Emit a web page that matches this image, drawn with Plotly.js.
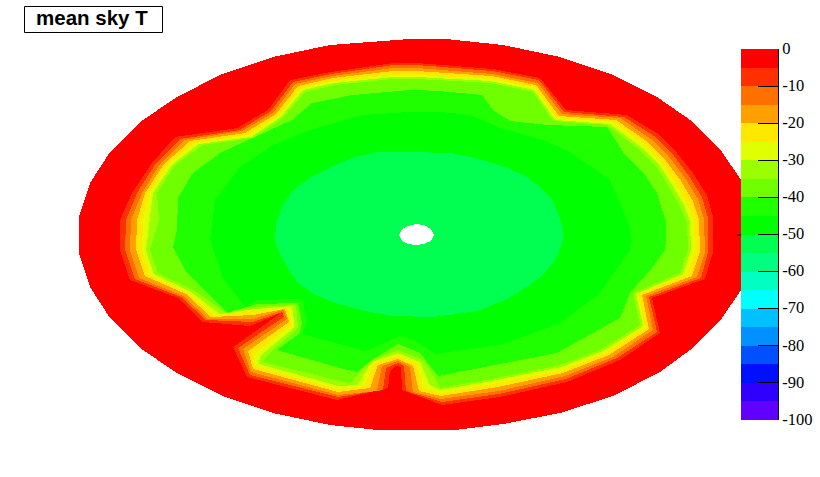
<!DOCTYPE html>
<html>
<head>
<meta charset="utf-8">
<script src="https://cdn.plot.ly/plotly-3.0.1.min.js"></script>
<style>
body { margin: 0; background: #fff; }
/* the original has hard pixel edges, no smoothing */
.js-fill, .bars path { shape-rendering: crispEdges; }
</style>
</head>
<body>
<div id="chart" style="width:820px;height:477px"></div>
<script>
// palette, top (0) to bottom (-100), 5 degrees per band
const bandColors = ["#ff0000","#ff3000","#ff7000","#ffa000","#ffe800","#e0ff00","#9cff00","#70ff00","#20ff00","#00ff00",
    "#00ff50","#00ff80","#00ffc0","#00ffff","#00c0ff","#0090ff","#0050ff","#0010ff","#3000ff","#6000ff"];
const bandLow = [-5,-10,-15,-20,-25,-30,-35,-40,-45,-50,-55,-60,-65,-70,-75,-80,-85,-90,-95,-100];
const tickValues = [0,-10,-20,-30,-40,-50,-60,-70,-80,-90,-100];
const tickLabels = ["0","-10","-20","-30","-40","-50","-60","-70","-80","-90","-100"];

// contour edges, clockwise from the top
const edgeOuter = [[410,39],[446,39],[503,45],[560,57],[613,75],[657,97],[693,122],[722,152],[741,180],[755,217],[755,253],[741,290],[722,318],[690,350],[660,372],[613,396],[560,413],[503,424],[455,430],[378,430],[330,425],[273,413],[223,396],[177,373],[140,348],[110,318],[90,287],[79,253],[79,217],[90,183],[110,152],[140,122],[177,97],[220,75],[273,57],[330,45]];
const edge5 = [[417,63],[493,69],[540,78],[566,110],[627,115],[657,133],[677,153],[693,173],[707,195],[713,217],[713,252],[705,279],[652,298],[660,333],[620,360],[567,382],[500,397],[442,405],[402,390],[401,367],[396,366],[390,371],[388,388],[337,400],[247,377],[233,347],[281,313],[250,326],[203,322],[178,298],[130,280],[120,250],[120,220],[132,193],[152,163],[175,137],[237,128],[268,110],[290,80],[330,72],[393,63]];
const edge10 = [[417,65],[492,71],[539,80],[564,112],[624,117],[654,136],[674,156],[689,176],[702,197],[708,218],[708,252],[701,278],[649,297],[657,332],[617,358],[566,379],[499,394],[442,402],[406,391],[404,366],[398,363],[386,368],[383,390],[338,397],[250,375],[238,348],[284,317],[282,312],[253,322],[206,320],[181,297],[135,279],[125,250],[126,220],[137,193],[156,163],[180,139],[240,130],[271,111],[293,82],[331,74],[393,65]];
const edge15 = [[417,68],[492,74],[538,83],[562,114],[620,118],[651,139],[670,158],[685,178],[698,199],[704,219],[705,252],[697,277],[646,296],[653,330],[613,357],[565,376],[499,391],[441,399],[413,392],[410,367],[398,361],[382,366],[377,391],[338,395],[251,372],[243,349],[287,319],[283,310],[253,319],[208,319],[183,296],[139,278],[130,250],[131,220],[142,193],[160,164],[184,140],[242,131],[273,113],[295,84],[332,76],[393,68]];
const edge20 = [[417,71],[491,76],[536,85],[559,116],[616,120],[648,142],[666,161],[681,181],[693,201],[699,220],[700,251],[692,276],[642,295],[649,329],[609,355],[563,373],[498,387],[441,396],[419,391],[413,366],[398,359],[378,365],[370,388],[338,392],[253,369],[248,351],[289,322],[285,309],[253,315],[211,317],[186,294],[145,276],[136,250],[137,220],[145,193],[164,164],[190,141],[245,133],[276,114],[298,86],[333,78],[393,71]];
const edge25 = [[417,75],[491,79],[535,88],[556,118],[612,122],[645,145],[662,164],[676,184],[687,204],[694,221],[695,251],[687,275],[638,294],[645,327],[605,353],[562,370],[498,383],[441,393],[424,388],[417,364],[398,356],[374,363],[364,386],[338,389],[255,366],[254,355],[292,325],[288,308],[254,311],[215,316],[188,293],[150,275],[142,250],[143,220],[150,193],[169,164],[195,143],[249,135],[279,116],[301,89],[334,81],[393,75]];
const edge30 = [[417,77],[490,81],[534,90],[555,120],[610,124],[642,148],[660,166],[673,186],[684,205],[690,221],[691,250],[683,274],[636,294],[643,326],[603,351],[561,367],[497,380],[440,390],[430,385],[420,362],[398,353],[371,362],[358,385],[338,386],[259,364],[260,356],[295,327],[292,306],[255,309],[220,314],[191,292],[154,274],[146,250],[150,220],[153,193],[172,165],[199,144],[251,137],[281,117],[303,90],[334,83],[393,77]];
const edge35 = [[417,79],[490,83],[533,92],[553,121],[607,125],[640,150],[657,168],[670,188],[680,207],[687,222],[688,250],[680,273],[633,293],[640,325],[600,350],[560,365],[497,378],[440,388],[436,380],[423,360],[398,350],[368,362],[350,384],[340,381],[263,362],[268,355],[298,328],[296,305],[257,307],[225,312],[193,290],[158,273],[150,250],[159,220],[157,193],[175,165],[203,145],[253,138],[283,118],[305,92],[335,85],[393,79]];
const edge40 = [[417,90],[438,91],[482,95],[493,110],[510,121],[548,125],[607,127],[623,152],[645,175],[657,193],[666,222],[666,240],[665,250],[652,268],[630,293],[620,318],[557,353],[483,367],[438,376],[420,353],[398,344],[375,358],[357,372],[340,368],[277,350],[300,333],[302,323],[298,303],[257,304],[227,313],[185,270],[173,247],[177,230],[178,198],[193,173],[220,153],[292,120],[312,103],[353,95],[410,90]];
const edge45 = [[417,112],[440,112],[470,115],[500,128],[543,140],[570,152],[610,180],[630,227],[631,240],[630,250],[600,293],[560,323],[500,345],[435,354],[415,341],[400,336],[380,345],[365,351],[303,334],[307,320],[302,299],[257,300],[245,307],[223,278],[210,240],[215,200],[240,167],[273,145],[310,130],[363,115],[410,112]];
const edge50 = [[410,152],[450,153],[470,157],[490,162],[510,169],[527,177],[541,188],[552,200],[559,215],[563,230],[563,240],[559,252],[553,263],[543,275],[527,287],[505,300],[478,311],[433,317],[393,316],[365,311],[335,303],[314,294],[298,283],[287,267],[279,252],[275,240],[276,225],[281,208],[293,190],[311,177],[333,166],[355,157],[378,152]];
const holeEdge = [[399,235],[402,229],[408,226],[416,224],[424,225],[431,229],[434,235],[431,241],[424,244],[416,245],[408,244],[402,241]];

const edges = [edgeOuter, edge5, edge10, edge15, edge20, edge25, edge30, edge35, edge40, edge45, edge50];

function polygon(points, color) {
    return {
        x: points.map(p => p[0]),
        y: points.map(p => p[1]),
        type: "scatter",
        mode: "lines",
        fill: "toself",
        fillcolor: color,
        line: {width: 0, color: color},
        hoverinfo: "skip",
        showlegend: false
    };
}

const traces = edges.map((points, i) => polygon(points, bandColors[i]));
traces.push(polygon(holeEdge, "#ffffff"));

// palette on the right
traces.push({
    x: bandLow.map(() => 0),
    y: bandLow.map(() => 5),
    base: bandLow,
    type: "bar",
    width: 1,
    marker: {color: bandColors, line: {width: 0}},
    xaxis: "x2",
    yaxis: "y2",
    hoverinfo: "skip",
    showlegend: false
});

const layout = {
    width: 820,
    height: 477,
    margin: {l: 0, r: 0, t: 0, b: 0},
    paper_bgcolor: "#ffffff",
    plot_bgcolor: "rgba(0,0,0,0)",
    hovermode: false,
    showlegend: false,
    font: {family: "Liberation Serif", color: "#000000", size: 16},
    xaxis: {domain: [0, 741/820], range: [0, 741], visible: false, fixedrange: true},
    yaxis: {domain: [0, 1], range: [477, 0], visible: false, fixedrange: true},
    xaxis2: {domain: [741/820, 778/820], range: [-0.5, 0.5], visible: false, anchor: "y2", fixedrange: true},
    yaxis2: {
        domain: [(477-420)/477, (477-49)/477],
        range: [-100, 0],
        anchor: "x2",
        side: "right",
        showline: true,
        linecolor: "#000000",
        linewidth: 1,
        showgrid: false,
        zeroline: false,
        ticks: "inside",
        ticklen: 20,
        tickwidth: 1,
        tickcolor: "#000000",
        tickmode: "array",
        tickvals: tickValues,
        ticktext: tickLabels,
        ticklabelshift: -1,
        tickfont: {family: "Liberation Serif", size: 16.5, color: "#000000"},
        fixedrange: true
    },
    shapes: [
        {type: "line", xref: "paper", yref: "paper", x0: 737/820, x1: 741/820, y0: (477-235)/477, y1: (477-235)/477, line: {color: "#000000", width: 1}},
        // title box
        {type: "rect", xref: "x", yref: "y", x0: 24.5, x1: 162.5, y0: 6.5, y1: 32.5, fillcolor: "#ffffff", line: {color: "#000000", width: 1}}
    ],
    annotations: [{
        text: "<b>mean sky T</b>",
        xref: "x",
        yref: "y",
        x: 92,
        y: 17,
        xanchor: "center",
        yanchor: "middle",
        showarrow: false,
        font: {family: "Liberation Sans", size: 20.5, color: "#000000"}
    }]
};

Plotly.newPlot("chart", traces, layout, {displayModeBar: false, staticPlot: true});
</script>
</body>
</html>
